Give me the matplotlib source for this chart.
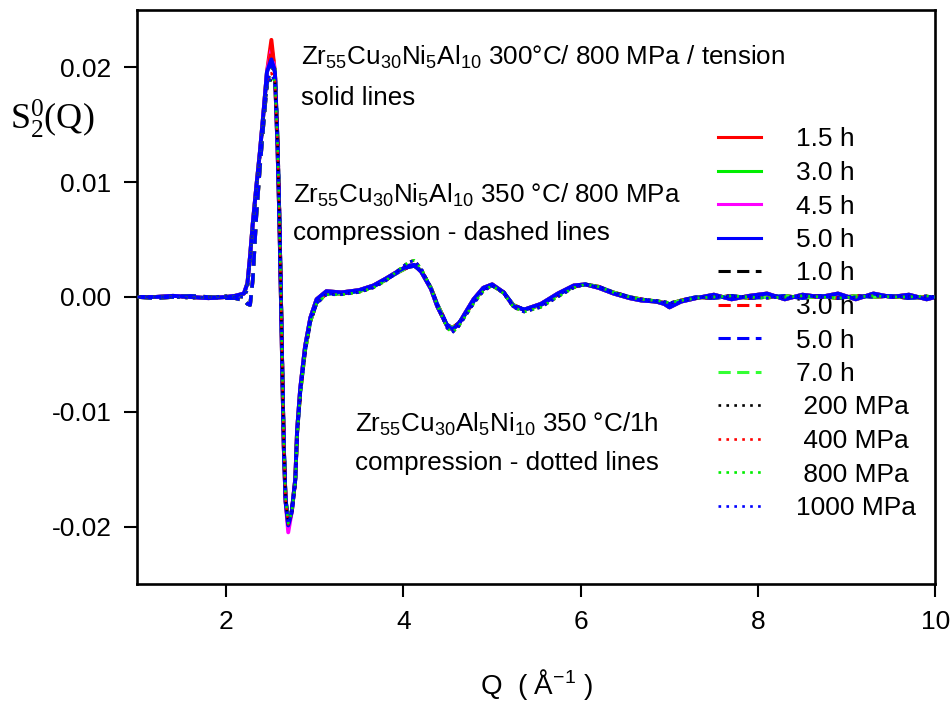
#!/usr/bin/env python3
"""S2^0(Q) anisotropic structure factor of Zr-based glasses under load."""

import matplotlib

matplotlib.use("Agg")

import matplotlib.pyplot as plt
from matplotlib.ticker import FormatStrFormatter, MultipleLocator


Q = [
    1.0, 1.2, 1.4, 1.6, 1.8, 2.0, 2.1, 2.2, 2.24, 2.27,
    2.30, 2.34, 2.38, 2.42, 2.46, 2.51, 2.55, 2.58, 2.60, 2.62,
    2.635, 2.65, 2.67, 2.70, 2.74, 2.78, 2.80, 2.835, 2.89, 2.95,
    3.02, 3.13, 3.3, 3.5, 3.66, 3.8, 3.95, 4.05, 4.12, 4.2,
    4.31, 4.38, 4.49, 4.55, 4.62, 4.68, 4.79, 4.9, 5.0, 5.13,
    5.24, 5.36, 5.55, 5.74, 5.92, 6.05, 6.2, 6.37, 6.55, 6.68,
    6.85, 6.94, 7.0, 7.13, 7.3, 7.5, 7.7, 7.9, 8.1, 8.3,
    8.5, 8.7, 8.9, 9.1, 9.3, 9.5, 9.7, 9.9, 10.0,
]

# tension, solid lines
S_SOLID = [
    0.0000, 0.0000, 0.0001, 0.0000, -0.0001, 0.0000, 0.0001, 0.0003, 0.0012, 0.0036,
    0.0064, 0.0096, 0.0126, 0.0160, 0.0196, 0.0220, 0.0196, 0.0128, 0.0068, -0.0010,
    -0.0073, -0.0131, -0.0178, -0.0200, -0.0187, -0.0158, -0.0116, -0.0080, -0.0043, -0.0018,
    -0.0002, 0.0005, 0.0004, 0.0006, 0.0010, 0.0016, 0.0023, 0.0027, 0.0028, 0.0022,
    0.0007, -0.0008, -0.0025, -0.0028, -0.0024, -0.0016, -0.0002, 0.0008, 0.0011, 0.0004,
    -0.0008, -0.0011, -0.0006, 0.0003, 0.0010, 0.0011, 0.0008, 0.0003, -0.0001, -0.0003,
    -0.0004, -0.0006, -0.0009, -0.0004, -0.0001, 0.0002, -0.0002, 0.0001, 0.0003, -0.0002,
    0.0002, 0.0000, 0.0003, -0.0002, 0.0003, 0.0000, 0.0002, -0.0002, 0.0000,
]

# compression 350 C, dashed lines
S_DASHED = [
    0.0000, -0.0001, 0.0000, 0.0001, 0.0000, -0.0001, -0.0001, -0.0003, -0.0006, -0.0007,
    0.0015, 0.0070, 0.0112, 0.0150, 0.0186, 0.0205, 0.0198, 0.0138, 0.0074, -0.0004,
    -0.0068, -0.0126, -0.0174, -0.0198, -0.0186, -0.0160, -0.0120, -0.0084, -0.0047, -0.0021,
    -0.0005, 0.0003, 0.0003, 0.0005, 0.0009, 0.0015, 0.0022, 0.0026, 0.0027, 0.0023,
    0.0008, -0.0006, -0.0024, -0.0027, -0.0023, -0.0017, -0.0004, 0.0007, 0.0010, 0.0004,
    -0.0007, -0.0011, -0.0007, 0.0002, 0.0009, 0.0011, 0.0009, 0.0004, 0.0000, -0.0002,
    -0.0004, -0.0005, -0.0006, -0.0003, 0.0000, -0.0001, 0.0001, -0.0001, 0.0000, 0.0001,
    -0.0001, 0.0001, -0.0001, 0.0001, 0.0000, 0.0001, -0.0001, 0.0000, 0.0000,
]

# compression 350 C / 1 h, dotted lines
S_DOTTED = [
    0.0000, 0.0000, 0.0000, -0.0001, 0.0000, 0.0001, 0.0000, 0.0000, 0.0006, 0.0030,
    0.0060, 0.0092, 0.0122, 0.0154, 0.0182, 0.0190, 0.0188, 0.0132, 0.0070, -0.0008,
    -0.0070, -0.0128, -0.0176, -0.0196, -0.0188, -0.0162, -0.0122, -0.0086, -0.0048, -0.0022,
    -0.0006, 0.0002, 0.0002, 0.0004, 0.0008, 0.0014, 0.0024, 0.0030, 0.0032, 0.0025,
    0.0008, -0.0007, -0.0027, -0.0031, -0.0026, -0.0019, -0.0006, 0.0005, 0.0010, 0.0003,
    -0.0009, -0.0013, -0.0009, 0.0000, 0.0008, 0.0011, 0.0009, 0.0004, 0.0000, -0.0002,
    -0.0003, -0.0004, -0.0005, -0.0003, -0.0001, 0.0000, 0.0001, 0.0000, -0.0001, 0.0000,
    0.0001, 0.0000, -0.0001, 0.0000, 0.0001, 0.0000, 0.0000, 0.0001, 0.0000,
]

# per-series first maximum (Q = 2.51) and first minimum (Q = 2.70)
SOLID_LABELS = ["1.5 h", "3.0 h", "4.5 h", "5.0 h"]
SOLID_PEAK = [0.0224, 0.0212, 0.0215, 0.0207]
SOLID_VALLEY = [-0.0200, -0.0199, -0.0205, -0.0199]

DASHED_LABELS = ["1.0 h", "3.0 h", "5.0 h", "7.0 h"]
DASHED_PEAK = [0.0200, 0.0218, 0.0205, 0.0203]
DASHED_VALLEY = [-0.0196, -0.0200, -0.0198, -0.0197]

DOTTED_LABELS = [" 200 MPa", " 400 MPa", " 800 MPa", "1000 MPa"]
DOTTED_PEAK = [0.0190, 0.0195, 0.0192, 0.0193]
DOTTED_VALLEY = [-0.0196, -0.0198, -0.0197, -0.0197]

SOLID_COLORS = ["#ff0000", "#00ee00", "#ff00ff", "#0000ff"]
DASHED_COLORS = ["#000000", "#ff0000", "#0000ff", "#33ff33"]
DOTTED_COLORS = ["#000000", "#ff0000", "#00ee00", "#0000ff"]

W, H = 953, 706


def px(x, y):
    """Pixel position (from top-left) to figure fraction."""
    return x / W, 1 - y / H


def series(profile, peak, valley):
    values = list(profile)
    values[Q.index(2.51)] = peak
    values[Q.index(2.70)] = valley
    return values


def main():
    plt.rcParams["font.family"] = "Liberation Sans"
    plt.rcParams["mathtext.default"] = "regular"
    plt.rcParams["axes.unicode_minus"] = False

    fig = plt.figure(figsize=(W / 100, H / 100), dpi=100)
    ax = fig.add_axes([137.5 / W, 1 - 584 / H, 798 / W, 574 / H])

    groups = [
        (S_SOLID, SOLID_LABELS, SOLID_PEAK, SOLID_VALLEY, SOLID_COLORS, "-", 2.8, 2),
        (S_DASHED, DASHED_LABELS, DASHED_PEAK, DASHED_VALLEY, DASHED_COLORS,
         (0, (4.0, 2.1)), 2.6, 2.4),
        (S_DOTTED, DOTTED_LABELS, DOTTED_PEAK, DOTTED_VALLEY, DOTTED_COLORS,
         (0, (1.0, 2.0)), 1.9, 4),
    ]
    for profile, labels, peaks, valleys, colors, style, lw, z in groups:
        for label, peak, valley, color in zip(labels, peaks, valleys, colors):
            # blue traces sit on top of the bundle in the original
            zorder = z + 0.5 if color == "#0000ff" else z
            ax.plot(Q, series(profile, peak, valley), color=color, linestyle=style,
                    linewidth=lw, label=label, zorder=zorder)

    ax.set_xlim(1, 10)
    ax.set_ylim(-0.025, 0.025)
    ax.xaxis.set_major_locator(MultipleLocator(2))
    ax.yaxis.set_major_locator(MultipleLocator(0.01))
    ax.yaxis.set_major_formatter(FormatStrFormatter("%.2f"))
    ax.tick_params(direction="out", length=9.4, width=1.5, pad=9.4, labelsize=19,
                   top=False, right=False)
    for spine in ax.spines.values():
        spine.set_linewidth(1.9)

    leg = ax.legend(loc="upper left", bbox_to_anchor=px(718, 127.5),
                    bbox_transform=fig.transFigure, frameon=False, fontsize=19,
                    borderpad=0, borderaxespad=0, handlelength=1.63,
                    handletextpad=1.33, labelspacing=0.36)
    leg.set_zorder(1)
    for line in leg.get_lines():
        line.set_linewidth(min(line.get_linewidth(), 2.2))

    fig.text(*px(10, 129), "S$_2^0$(Q)", family="Liberation Serif", fontsize=26,
             va="baseline")
    fig.text(*px(536.5, 685), "Q  ( Å$^{-1}$ )", fontsize=20, ha="center", va="center")

    notes = [
        (301, 65, "Zr$_{55}$Cu$_{30}$Ni$_5$Al$_{10}$ 300°C/ 800 MPa / tension"),
        (301, 105, "solid lines"),
        (293, 203, "Zr$_{55}$Cu$_{30}$Ni$_5$Al$_{10}$ 350 °C/ 800 MPa"),
        (293, 240, "compression - dashed lines"),
        (355, 432, "Zr$_{55}$Cu$_{30}$Al$_5$Ni$_{10}$ 350 °C/1h"),
        (355, 470, "compression - dotted lines"),
    ]
    for x, y, text in notes:
        fig.text(*px(x, y), text, fontsize=18.7, va="baseline")

    fig.savefig("out.png", dpi=100)
    plt.close(fig)


if __name__ == "__main__":
    main()
